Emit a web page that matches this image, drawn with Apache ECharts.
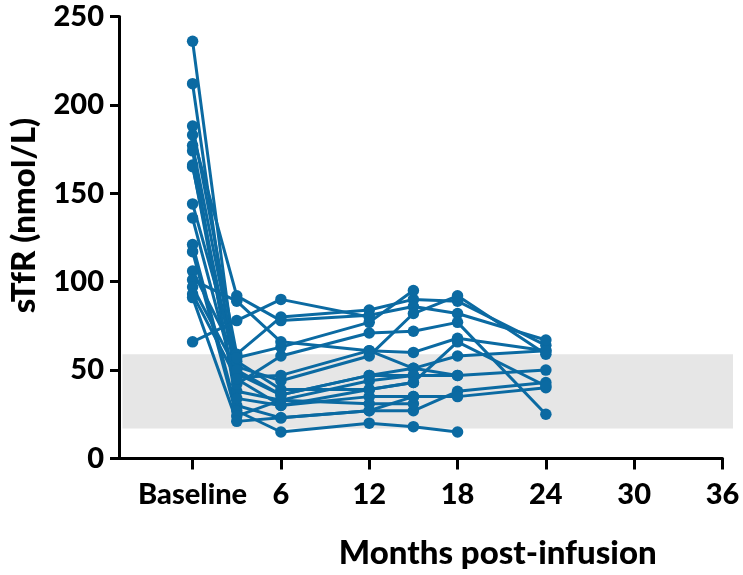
<!DOCTYPE html>
<html>
<head>
<meta charset="utf-8">
<script src="https://cdn.jsdelivr.net/npm/echarts@6/dist/echarts.min.js"></script>
<style>
html, body { margin: 0; padding: 0; background: #fff; }
#chart { width: 743px; height: 575px; }
</style>
</head>
<body>
<div id="chart"></div>
<script>
var months = [0, 3, 6, 12, 15, 18, 24];
var tickMonths = [0, 6, 12, 18, 24, 30, 36];
var normalRange = [17, 59];

// one array per patient, values at each month (null = no more visits)
var p1 = [236, 48, 36, 47, 51, 58, 61];
var p2 = [212, 38, 33, 44, 47, 47, 50];
var p3 = [188, 59, 80, 84, 90, 89, 64];
var p4 = [183, 92, 78, 81, 86, 82, 67];
var p5 = [177, 52, 44, 58, 82, 92, 59];
var p6 = [174, 30, 23, 27, 27, 38, 43];
var p7 = [166, 34, 30, 35, 35, 35, 40];
var p8 = [165, 46, 47, 61, 60, 68, 61];
var p9 = [144, 55, 39, 39, 43, 66, 41];
var p10 = [136, 42, 58, 71, 72, 77, 25];
var p11 = [121, 27, 15, 20, 18, 15, null];
var p12 = [117, 24, 33, 31, 31, null, null];
var p13 = [106, 57, 63, 77, 95, null, null];
var p14 = [101, 89, 66, 61, 51, 47, null];
var p15 = [97, 50, 36, 47, 47, null, null];
var p16 = [93, 45, 30, 39, 43, null, null];
var p17 = [91, 21, 23, 27, 35, null, null];
var p18 = [66, 78, 90, 80, null, null, null];

var patients = [p1, p2, p3, p4, p5, p6, p7, p8, p9, p10, p11, p12, p13, p14, p15, p16, p17, p18];

var blue = '#0b6aa2';
var font = 'Lato';

var series = [{
	type: 'line',
	xAxisIndex: 1,
	yAxisIndex: 1,
	data: [],
	silent: true,
	z: 0,
	markArea: {
		silent: true,
		itemStyle: { color: '#e6e6e6' },
		data: [[{ xAxis: -4.7, yAxis: normalRange[0] }, { xAxis: 36.7, yAxis: normalRange[1] }]]
	}
}];

for (var i = 0; i < patients.length; i++) {
	var pts = [];
	for (var j = 0; j < months.length; j++) {
		if (patients[i][j] != null) pts.push([months[j], patients[i][j]]);
	}
	series.push({
		type: 'line',
		data: pts,
		z: 3,
		symbol: 'circle',
		symbolSize: 11.5,
		lineStyle: { color: blue, width: 3 },
		itemStyle: { color: blue },
		emphasis: { disabled: true }
	});
}

var option = {
	animation: false,
	grid: [
		{ left: 118, right: 20.5, top: 16.5, bottom: 116.5 },
		{ left: 118, right: 10, top: 16.5, bottom: 116.5 }
	],
	xAxis: [{
		type: 'value',
		gridIndex: 0,
		min: -5,
		max: 36,
		name: 'Months post-infusion',
		nameLocation: 'middle',
		nameGap: 78,
		nameTextStyle: {
			color: '#000', fontFamily: font, fontWeight: 900, fontSize: 33,
			padding: [0, 0, 0, 154]
		},
		axisLine: { onZero: false, lineStyle: { color: '#000', width: 3 } },
		axisTick: {
			show: true,
			customValues: tickMonths,
			length: 11,
			lineStyle: { color: '#000', width: 3 }
		},
		axisLabel: {
			customValues: tickMonths,
			margin: 22,
			color: '#000',
			fontFamily: font,
			fontWeight: 900,
			fontSize: 29,
			formatter: function (v) { return v === 0 ? 'Baseline' : String(v); }
		},
		splitLine: { show: false }
	}, {
		type: 'value',
		gridIndex: 1,
		min: -5,
		max: 36.7,
		show: false
	}],
	yAxis: [{
		type: 'value',
		gridIndex: 0,
		min: 0,
		max: 250,
		interval: 50,
		name: 'sTfR (nmol/L)',
		nameLocation: 'middle',
		nameGap: 78,
		nameTextStyle: {
			color: '#000', fontFamily: font, fontWeight: 900, fontSize: 33,
			padding: [0, 0, 0, 44]
		},
		axisLine: { show: true, onZero: false, lineStyle: { color: '#000', width: 3 } },
		axisTick: { show: true, length: 9, lineStyle: { color: '#000', width: 3 } },
		axisLabel: {
			margin: 15,
			color: '#000',
			fontFamily: font,
			fontWeight: 900,
			fontSize: 29
		},
		splitLine: { show: false }
	}, {
		type: 'value',
		gridIndex: 1,
		min: 0,
		max: 250,
		show: false
	}],
	series: series
};

var chart = echarts.init(document.getElementById('chart'));
chart.setOption(option);
</script>
</body>
</html>
